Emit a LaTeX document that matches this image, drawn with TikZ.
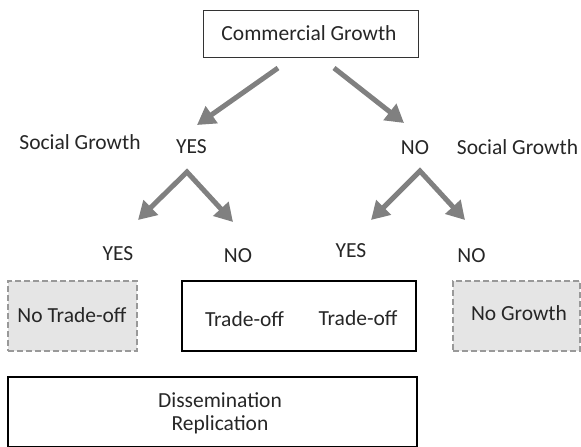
\documentclass[tikz,border=0pt]{standalone}
\usepackage{fontspec}
\setmainfont{Carlito}
\usetikzlibrary{arrows.meta}

\begin{document}
\begin{tikzpicture}[x=1pt,y=1pt,yscale=-1,
    lbl/.style={font=\fontsize{21.5}{23}\selectfont, text=black!85, inner sep=0pt},
    thinbox/.style={draw=black!80, line width=1pt},
    solidbox/.style={draw=black, line width=2pt},
    dashbox/.style={draw=black!40, fill=black!10, line width=1.3pt, dash pattern=on 6pt off 3pt},
    grarrow/.style={draw=black!50, line width=5pt, line join=miter, -{Triangle[length=18pt,width=20pt]}},
    twoarrow/.style={grarrow, {Triangle[length=18pt,width=20pt]}-{Triangle[length=18pt,width=20pt]}}]
    \useasboundingbox (0,0) rectangle (581,447);

    %Top box
    \node[thinbox, minimum width=215, minimum height=47] (cgbox) at (310.5,33.5) {};
    \node[lbl] (cg) at (309,33) {Commercial Growth};

    %Labels, first level
    \node[lbl] (sgleft) at (80,142) {Social Growth};
    \node[lbl] (yesa) at (191.5,147) {YES};
    \node[lbl] (noa) at (415,148) {NO};
    \node[lbl] (sgright) at (517.5,147) {Social Growth};

    %Labels, second level
    \node[lbl] (yesb) at (118,254) {YES};
    \node[lbl] (nob) at (238,256) {NO};
    \node[lbl] (yesc) at (351,251) {YES};
    \node[lbl] (noc) at (471.5,256) {NO};

    %Arrow ends
    \coordinate (cgl) at (278,68);
    \coordinate (cgr) at (334,68);
    \coordinate (yesatip) at (197,125);
    \coordinate (noatip) at (404,123);
    \coordinate (yespeak) at (187,172);
    \coordinate (yesbtip) at (138,220);
    \coordinate (nobtip) at (233,222);
    \coordinate (nopeak) at (420,171);
    \coordinate (yesctip) at (371,220);
    \coordinate (noctip) at (465,220);

    \draw[grarrow] (cgl) -- (yesatip);
    \draw[grarrow] (cgr) -- (noatip);
    \draw[twoarrow] (yesbtip) -- (yespeak) -- (nobtip);
    \draw[twoarrow] (yesctip) -- (nopeak) -- (noctip);

    %Outcome boxes
    \node[dashbox, minimum width=129, minimum height=70] (notradebox) at (72.5,316) {};
    \node[lbl] (notrade) at (72,315) {No Trade-off};
    \node[solidbox, minimum width=234, minimum height=70] (tradebox) at (299,316) {};
    \node[lbl] (tradea) at (244.5,319) {Trade-off};
    \node[lbl] (tradeb) at (358,318) {Trade-off};
    \node[dashbox, minimum width=127, minimum height=70] (nogrowthbox) at (516.5,316) {};
    \node[lbl] (nogrowth) at (519,313) {No Growth};

    %Bottom box
    \node[solidbox, minimum width=409, minimum height=70] (dissembox) at (212.5,412) {};
    \node[lbl, align=center] (dissem) at (220,413.5) {Dissemination\\Replication};
\end{tikzpicture}
\end{document}
